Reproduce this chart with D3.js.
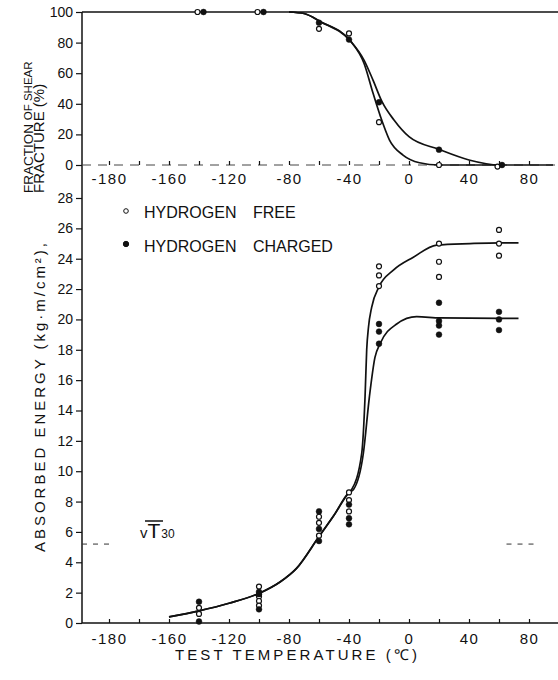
<!DOCTYPE html>
<html lang="en">
<head>
<meta charset="UTF-8">
<title>Absorbed energy and shear fracture vs test temperature</title>
<style>
    body { margin: 0; background: #fff; }
    svg { display: block; font-family: "Liberation Sans", Arial, sans-serif; }
    .tick text { fill: #111; }
    .ylab .tick text { font-size: 14px; }
    .xlab .tick text { font-size: 15px; letter-spacing: 1.5px; }
    .tick line { stroke: #111; stroke-width: 1.2px; }
    .curve { fill: none; stroke: #111; stroke-width: 1.7px; }
    .frame { stroke: #111; stroke-width: 1.5px; }
    .title { font-size: 15px; fill: #111; }
</style>
<script src="https://cdn.jsdelivr.net/npm/d3@7"></script>
</head>
<body>
<svg width="558" height="680"></svg>
<script>
// x tick positions and the labels printed under them (as in the original figure)
var tempTicks = [-200, -160, -120, -80, -40, 0, 40, 80];
var tempLabels = ["-180", "-160", "-120", "-80", "-40", "0", "40", "80"];
var shearTicks = [0, 20, 40, 60, 80, 100];
var energyTicks = [0, 2, 4, 6, 8, 10, 12, 14, 16, 18, 20, 22, 24, 26, 28];

// fraction of shear fracture (%) - measured points
var shearFreeTemp = [-141, -101, -60, -40, -20, 20, 59];
var shearFree = [100, 100, 89, 86, 28, 0, -1];
var shearChargedTemp = [-137, -97, -60, -40, -20, 20, 62];
var shearCharged = [100, 100, 93, 82, 41, 10, 0];

// fraction of shear fracture - fitted curves
var shearFreeCurveT = [-80, -70, -59, -39, -30, -24, -19, -13, -4, 7, 20, 60];
var shearFreeCurve = [100, 99, 93.7, 81, 66.5, 47, 31.6, 16.3, 6.5, 1.5, 0, 0];
var shearChargedCurveT = [-80, -70, -59, -39, -30, -24, -18, -10, 0, 20, 40, 60, 96];
var shearChargedCurve = [100, 99, 93.7, 81, 68.6, 55.5, 41.4, 29.4, 18.5, 10.2, 3.3, 0, 0];

// absorbed energy (kg.m/cm2) - measured points
var energyFreeTemp = [-140, -140, -100, -100, -100, -100, -60, -60, -60, -40, -40, -40, -20, -20, -20, 20, 20, 20, 60, 60, 60];
var energyFree = [1.0, 0.6, 2.4, 1.75, 1.45, 1.15, 7.0, 6.6, 5.75, 8.6, 8.1, 7.35, 23.5, 22.9, 22.2, 25.0, 23.8, 22.8, 25.9, 25.0, 24.2];
var energyChargedTemp = [-140, -140, -100, -100, -100, -60, -60, -60, -40, -40, -40, -20, -20, -20, 20, 20, 20, 20, 60, 60, 60];
var energyCharged = [1.4, 0.1, 2.05, 1.9, 0.9, 7.35, 6.2, 5.4, 7.8, 6.9, 6.5, 19.7, 19.2, 18.4, 21.1, 19.9, 19.6, 19.0, 20.5, 20.0, 19.3];

// absorbed energy - fitted curves
var energyFreeCurveT = [-160, -140, -120, -100, -86, -75, -60, -50, -40, -38.2, -31.5, -29.3, -28.2, -27, -24.9, -20, -10.4, 2.9, 18.4, 40.7, 60.7, 73];
var energyFreeCurve = [0.4, 0.8, 1.3, 1.95, 2.7, 3.6, 5.7, 7.1, 8.6, 8.8, 11.2, 14.9, 18.0, 19.5, 20.8, 22.15, 23.25, 24.1, 24.9, 25.0, 25.05, 25.05];
var energyChargedCurveT = [-160, -140, -120, -100, -86, -75, -60, -50, -40, -37, -30.4, -26.4, -22.7, -19.3, -8.2, 5.1, 20.7, 60.7, 73];
var energyChargedCurve = [0.4, 0.8, 1.3, 1.95, 2.7, 3.6, 5.7, 7.1, 8.6, 8.8, 11.2, 14.9, 17.5, 18.4, 19.7, 20.18, 20.1, 20.07, 20.07];

var vT30Level = 5.2;

var svg = d3.select("svg");
svg.append("rect").attr("width", 558).attr("height", 680).attr("fill", "#fff");

var x = d3.scaleLinear().domain([-200, 80]).range([109, 529]);
var yShear = d3.scaleLinear().domain([0, 100]).range([165, 12]);
var yEnergy = d3.scaleLinear().domain([0, 28]).range([623, 198]);

var left = 82, right = 558;

// frame lines
svg.append("line").attr("class", "frame")
    .attr("x1", left).attr("x2", left).attr("y1", yShear(100)).attr("y2", yEnergy(0));
svg.append("line").attr("class", "frame")
    .attr("x1", left).attr("x2", right).attr("y1", yShear(100)).attr("y2", yShear(100));
svg.append("line").attr("class", "frame")
    .attr("x1", left).attr("x2", right).attr("y1", yEnergy(0)).attr("y2", yEnergy(0));
svg.append("line")
    .attr("x1", left).attr("x2", right).attr("y1", yShear(0)).attr("y2", yShear(0))
    .attr("stroke", "#444").attr("stroke-width", 1).attr("stroke-dasharray", "9,7");

// y axes
var gs = svg.append("g").attr("class", "ylab").attr("transform", "translate(" + left + ",0)")
    .call(d3.axisLeft(yShear).tickValues(shearTicks).tickSize(6).tickPadding(3));
gs.select(".domain").remove();
var ge = svg.append("g").attr("class", "ylab").attr("transform", "translate(" + left + ",0)")
    .call(d3.axisLeft(yEnergy).tickValues(energyTicks).tickSize(6).tickPadding(3));
ge.select(".domain").remove();

// small ticks on the right edge
var gr1 = svg.append("g").attr("transform", "translate(" + right + ",0)")
    .call(d3.axisLeft(yShear).tickValues([20, 40, 60, 80]).tickSize(-5).tickFormat(""));
gr1.select(".domain").remove();
var gr2 = svg.append("g").attr("transform", "translate(" + right + ",0)")
    .call(d3.axisLeft(yEnergy).tickValues(energyTicks.slice(1)).tickSize(-5).tickFormat(""));
gr2.select(".domain").remove();

// x axes (labels) + minor ticks
[[yShear(0), 8], [yEnergy(0), 10]].forEach(function(a) {
    var g = svg.append("g").attr("class", "xlab").attr("transform", "translate(0," + a[0] + ")")
        .call(d3.axisBottom(x).tickValues(tempTicks).tickSize(0).tickPadding(a[1])
            .tickFormat(function(d, i) { return tempLabels[i]; }));
    g.select(".domain").remove();
    var m = svg.append("g").attr("transform", "translate(0," + a[0] + ")")
        .call(d3.axisBottom(x).tickValues(d3.range(-200, 81, 20)).tickSize(-4).tickFormat(""));
    m.select(".domain").remove();
});

function curve(ts, vs, y) {
    var line = d3.line()
        .x(function(d) { return x(d[0]); })
        .y(function(d) { return y(d[1]); })
        .curve(d3.curveMonotoneX);
    svg.append("path").attr("class", "curve").attr("d", line(d3.zip(ts, vs)));
}
curve(shearFreeCurveT, shearFreeCurve, yShear);
curve(shearChargedCurveT, shearChargedCurve, yShear);
curve(energyFreeCurveT, energyFreeCurve, yEnergy);
curve(energyChargedCurveT, energyChargedCurve, yEnergy);

function points(ts, vs, y, open) {
    svg.append("g").selectAll("circle")
        .data(d3.zip(ts, vs))
        .join("circle")
        .attr("cx", function(d) { return x(d[0]); })
        .attr("cy", function(d) { return y(d[1]); })
        .attr("r", open ? 2.5 : 2.9)
        .attr("fill", open ? "#fff" : "#111")
        .attr("stroke", "#111")
        .attr("stroke-width", open ? 1.2 : 0.5);
}
points(shearFreeTemp, shearFree, yShear, true);
points(shearChargedTemp, shearCharged, yShear, false);
points(energyFreeTemp, energyFree, yEnergy, true);
points(energyChargedTemp, energyCharged, yEnergy, false);

// vT30 level marks
[[-218, -197], [65, 86]].forEach(function(s) {
    svg.append("line")
        .attr("x1", x(s[0])).attr("x2", x(s[1]))
        .attr("y1", yEnergy(vT30Level)).attr("y2", yEnergy(vT30Level))
        .attr("stroke", "#333").attr("stroke-width", 1).attr("stroke-dasharray", "5,6");
});
var vt = svg.append("text").attr("x", 140).attr("y", 538).attr("fill", "#111");
vt.append("tspan").attr("font-size", 15).text("v");
vt.append("tspan").attr("font-size", 21).text("T");
vt.append("tspan").attr("font-size", 12).attr("dx", 1).text("30");
svg.append("line").attr("x1", 145).attr("x2", 163).attr("y1", 521).attr("y2", 521)
    .attr("stroke", "#111").attr("stroke-width", 1.5);

// legend
var legend = [["HYDROGEN FREE", true], ["HYDROGEN CHARGED", false]];
legend.forEach(function(l, i) {
    svg.append("circle").attr("cx", 126).attr("cy", 211 + i * 33)
        .attr("r", l[1] ? 2.3 : 2.7)
        .attr("fill", l[1] ? "#fff" : "#111").attr("stroke", "#111").attr("stroke-width", 1);
    svg.append("text").attr("x", 144).attr("y", 218 + i * 34)
        .attr("font-size", 16).attr("word-spacing", "12px").attr("fill", "#111")
        .text(l[0]);
});

// axis titles
svg.append("text").attr("class", "title").attr("x", 175).attr("y", 660)
    .attr("font-size", 16).attr("textLength", 242).attr("lengthAdjust", "spacing")
    .text("TEST TEMPERATURE (℃)");

svg.append("text").attr("class", "title")
    .attr("transform", "translate(45,552) rotate(-90)")
    .attr("textLength", 309).attr("lengthAdjust", "spacing")
    .text("ABSORBED ENERGY (kg·m/cm²),");
svg.append("text").attr("class", "title")
    .attr("transform", "translate(44,193) rotate(-90)")
    .text("FRACTURE (%)");
var fr = svg.append("text").attr("class", "title")
    .attr("transform", "translate(33,193) rotate(-90)");
fr.append("tspan").attr("font-size", 13.5).text("FRACTION ");
fr.append("tspan").attr("font-size", 11.5).attr("dy", -1).text("OF SHEAR");
</script>
</body>
</html>
